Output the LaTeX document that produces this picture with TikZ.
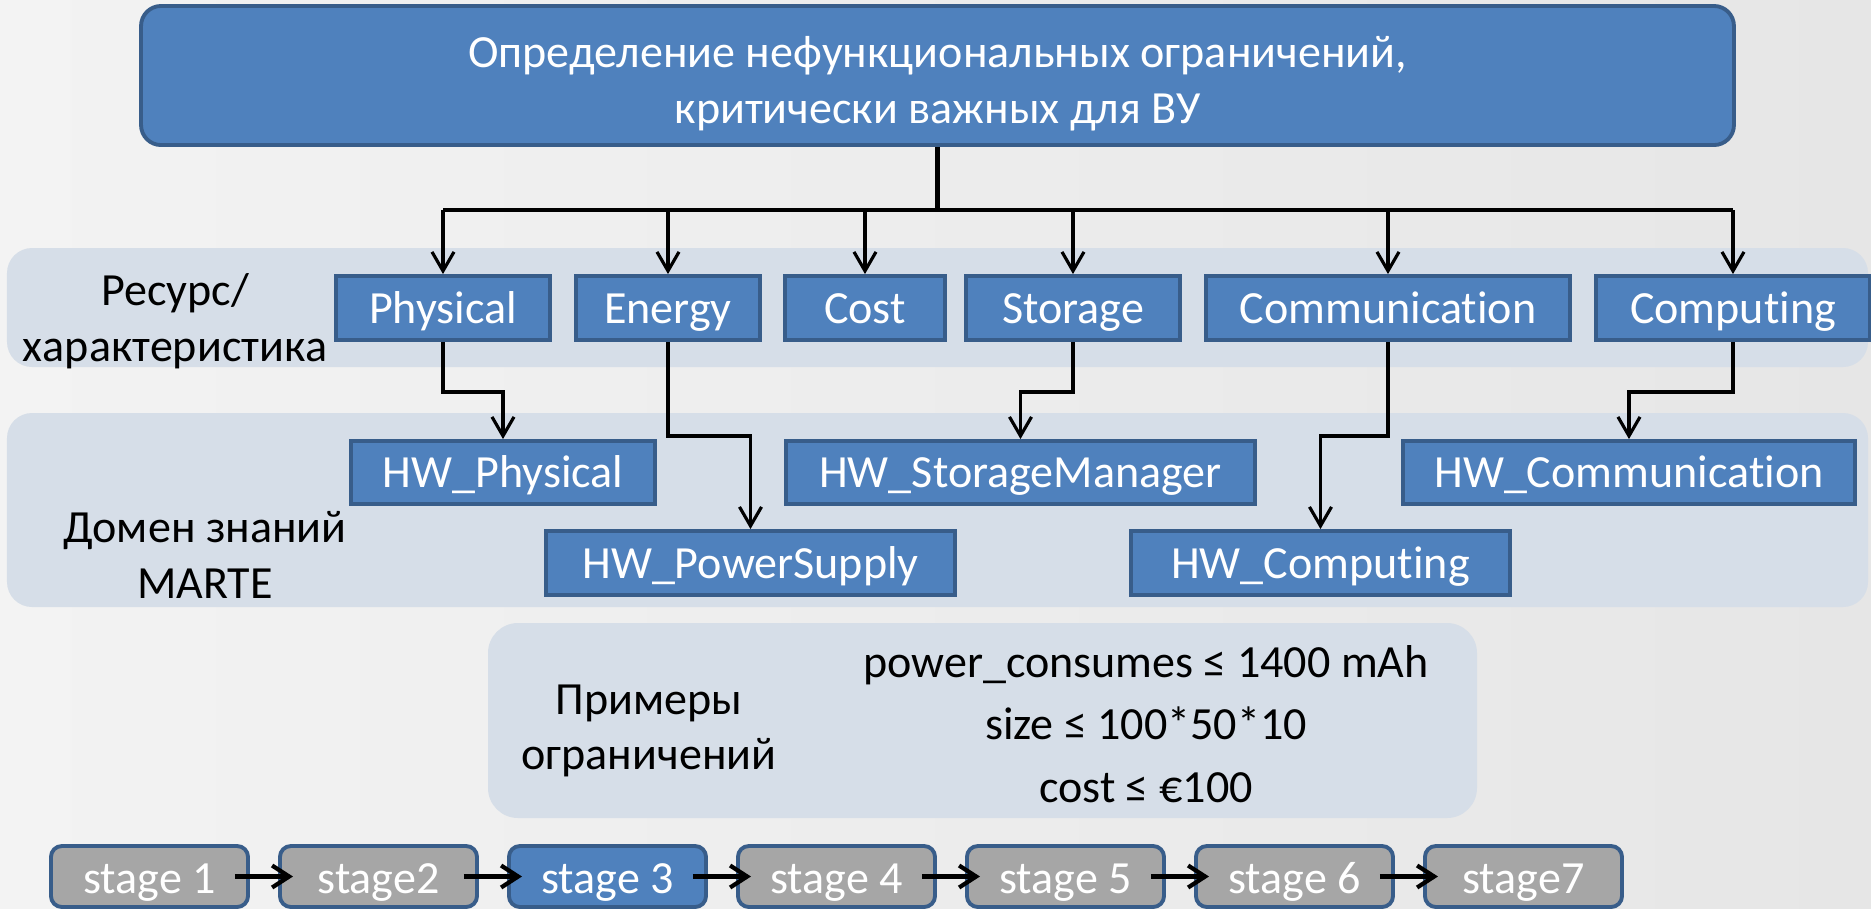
\documentclass[tikz,border=0pt]{standalone}
\usepackage{fontspec}
\setmainfont{Carlito}[Ligatures=NoCommon]
\usepackage{tikz}
\usetikzlibrary{arrows.meta,positioning}
\definecolor{slideBlue}{HTML}{4F81BD}
\definecolor{slideEdge}{HTML}{385D8A}
\definecolor{slideGray}{HTML}{A6A6A6}
\definecolor{slideBand}{HTML}{D6DEE8}
\definecolor{slideBgLeft}{HTML}{F3F3F3}
\definecolor{slideBgRight}{HTML}{E6E6E6}
\newcommand{\slidefont}{\fontsize{13.1}{15.8}\selectfont}
\tikzset{
  resbox/.style={draw=slideEdge, fill=slideBlue, line width=1.1pt, text=white, inner sep=0pt,
    minimum height=0.64cm, text height=0.38cm, text depth=0.08cm, font=\slidefont},
  topbox/.style={draw=slideEdge, fill=slideBlue, line width=1.1pt, text=white, rounded corners=0.2cm,
    align=center, font=\slidefont},
  stagebox/.style={resbox, fill=slideGray, rounded corners=0.11cm, minimum width=1.97cm,
    minimum height=0.61cm, text height=0.39cm, text depth=0.05cm},
  bandfill/.style={fill=slideBand, rounded corners=0.25cm},
  bandlabel/.style={align=center, font=\slidefont},
  link/.style={line width=0.9pt},
  linkarrow/.style={link, -{Straight Barb[length=1.9mm, width=2.2mm]}},
  stagearrow/.style={line width=1.2pt, -{Straight Barb[length=1.7mm, width=2.2mm]}}
}

\begin{document}
\begin{tikzpicture}[x=0.01cm, y=-0.01cm, node distance=0.28cm]
  \shade[left color=slideBgLeft, right color=slideBgRight] (0,0) rectangle (1871,908);
  \useasboundingbox (0,0) rectangle (1871,908);

  \fill[bandfill] (7,248) rectangle (1868,367);
  \fill[bandfill] (7,413) rectangle (1868,607);
  \fill[bandfill, rounded corners=0.3cm] (488,623) rectangle (1477,818);

  \node[topbox, minimum width=15.92cm, minimum height=1.39cm] (goal) at (937.5,75.5)
    {\rule{0pt}{13.5pt}Определение нефункциональных ограничений,\\критически важных для ВУ};

  \node[bandlabel] (reslabel) at (175,321) {Ресурс/\\характеристика};
  \node[bandlabel] (martelabel) at (205,555) {Домен знаний\\MARTE};
  \node[bandlabel] (examplelabel) at (649,731) {Примеры\\ограничений};
  \node[bandlabel, font=\fontsize{13.1}{17.8}\selectfont] (examples) at (1146,724)
    {power\_consumes ≤ 1400 mAh\\size ≤ 100*50*10\\cost ≤ €100};

  \node[resbox, minimum width=2.14cm] (physical) at (443,308) {Physical};
  \node[resbox, minimum width=1.84cm] (energy) at (668,308) {Energy};
  \node[resbox, minimum width=1.60cm] (cost) at (865,308) {Cost};
  \node[resbox, minimum width=2.14cm] (storage) at (1073,308) {Storage};
  \node[resbox, minimum width=3.64cm] (communication) at (1388,308) {Communication};
  \node[resbox, minimum width=2.74cm] (computing) at (1733,308) {Computing};

  \node[resbox, minimum width=3.04cm, minimum height=0.63cm] (hwphysical) at (503,472.5) {HW\_Physical};
  \node[resbox, minimum width=4.69cm, minimum height=0.63cm] (hwstorage) at (1020.5,472.5) {HW\_StorageManager};
  \node[resbox, minimum width=4.52cm, minimum height=0.63cm] (hwcommunication) at (1629,472.5) {HW\_Communication};
  \node[resbox, minimum width=4.09cm] (hwpower) at (750.5,563) {HW\_PowerSupply};
  \node[resbox, minimum width=3.79cm] (hwcomputing) at (1320.5,563) {HW\_Computing\hspace{0.26cm}};

  \coordinate (bus) at (937.5,210);
  \draw[link, line width=1.2pt] (goal.south) -- (bus);
  \draw[link] (bus -| physical.north) -- (bus -| computing.north);
  \foreach \res in {physical,energy,cost,storage,communication,computing}
    \draw[linkarrow] (bus -| \res.north) -- (\res.north);

  \draw[linkarrow] (physical.south) -- ++(0,50) -| (hwphysical.north);
  \draw[linkarrow] (energy.south) -- ++(0,94) -| (hwpower.north);
  \draw[linkarrow] (storage.south) -- ++(0,50) -| (hwstorage.north);
  \draw[linkarrow] (communication.south) -- ++(0,94) -| (hwcomputing.north);
  \draw[linkarrow] (computing.south) -- ++(0,50) -| (hwcommunication.north);

  \node[stagebox] (stage1) at (149.5,876.5) {stage 1};
  \node[stagebox, right=of stage1] (stage2) {stage2};
  \node[stagebox, fill=slideBlue, right=of stage2] (stage3) {stage 3};
  \node[stagebox, right=of stage3] (stage4) {stage 4};
  \node[stagebox, right=of stage4] (stage5) {stage 5};
  \node[stagebox, right=of stage5] (stage6) {stage 6};
  \node[stagebox, right=of stage6] (stage7) {stage7};
  \foreach \a/\b in {1/2,2/3,3/4,4/5,5/6,6/7}
    \draw[stagearrow] ([xshift=-0.15cm]stage\a.east) -- ([xshift=0.15cm]stage\b.west);
\end{tikzpicture}
\end{document}
